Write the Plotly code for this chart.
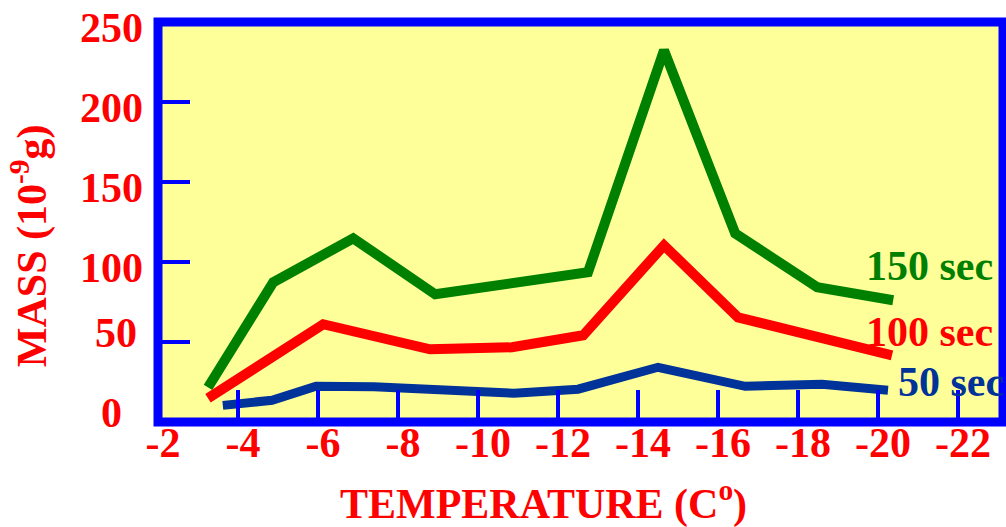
import plotly.graph_objects as go

# ---- data ----
temp_150 = [-3.25, -4.88, -6.88, -8.93, -12.75, -14.65, -16.43, -18.48, -20.38]
mass_150 = [21.7, 87.3, 114.8, 79.8, 93.6, 232.3, 117.9, 84.2, 76.1]

temp_100 = [-3.25, -6.13, -8.8, -10.85, -12.63, -14.65, -16.5, -20.35]
mass_100 = [14.8, 61.1, 45.4, 46.7, 54.2, 110.4, 65.4, 41.7]

temp_50 = [-3.62, -4.85, -5.95, -7.4, -10.9, -12.5, -14.5, -16.68, -18.6, -20.25]
mass_50 = [10.4, 13.6, 22.3, 22.0, 18.0, 20.5, 34.2, 22.3, 23.6, 19.8]

x_tick_vals = [-2, -4, -6, -8, -10, -12, -14, -16, -18, -20, -22]
x_tick_text = ["-2", "-4", "-6", "-8", "-10", "-12", "-14", "-16", "-18", "-20", "-22"]
y_tick_vals_upper = [100, 150, 200, 250]
y_tick_text_upper = ["100", "150", "200", "250"]
y_tick_vals_50 = [50]
y_tick_text_50 = ["50"]
y_tick_vals_0 = [0]
y_tick_text_0 = ["0"]

series_labels = ["150 sec", "100 sec", "50 sec"]
label_x = [-19.65, -19.65, -20.45]
label_y = [97.5, 56, 25]

GREEN = "#008000"
RED = "#FF0000"
NAVY = "#003399"
FRAME = "#0000FF"
FONT = "Liberation Serif, Times New Roman, serif"
FS = 42
Y_RANGE = [0, 250]
tick_font = dict(family=FONT, size=FS, color=RED, weight="bold")

fig = go.Figure()
fig.add_trace(go.Scatter(x=temp_150, y=mass_150, mode="lines", yaxis="y",
                         line=dict(color=GREEN, width=10), cliponaxis=False, showlegend=False))
fig.add_trace(go.Scatter(x=temp_100, y=mass_100, mode="lines", yaxis="y2",
                         line=dict(color=RED, width=10), cliponaxis=False, showlegend=False))
fig.add_trace(go.Scatter(x=temp_50, y=mass_50, mode="lines", yaxis="y3",
                         line=dict(color=NAVY, width=9), cliponaxis=False, showlegend=False))

for txt, lx, ly, col in zip(series_labels, label_x, label_y, [GREEN, RED, NAVY]):
    fig.add_annotation(x=lx, y=ly, xref="x", yref="y", text=txt, showarrow=False,
                       xanchor="left", yanchor="middle",
                       font=dict(family=FONT, size=FS, color=col, weight="bold"))

# axis titles
fig.add_annotation(x=0.4568, y=-0.198, xref="paper", yref="paper",
                   text="TEMPERATURE (C<sup>o</sup>)", showarrow=False,
                   xanchor="center", yanchor="middle",
                   font=dict(family=FONT, size=FS, color=RED, weight="bold"))
fig.add_annotation(x=-0.1515, y=0.442, xref="paper", yref="paper",
                   text="MASS (10<sup>-9</sup>g)", showarrow=False, textangle=-90,
                   xanchor="center", yanchor="middle",
                   font=dict(family=FONT, size=FS, color=RED, weight="bold"))

# frame
fig.add_shape(type="rect", xref="paper", yref="paper", x0=0, x1=1, y0=0, y1=1,
              line=dict(color=FRAME, width=9), layer="above")

fig.update_layout(
    xaxis=dict(range=[-2, -23.125], tickvals=x_tick_vals, ticktext=x_tick_text,
               ticks="inside", ticklen=32, tickwidth=4, tickcolor=FRAME,
               showgrid=False, zeroline=False, showline=False,
               ticklabelstandoff=-8, ticklabelshift=-5, ticklabeloverflow="allow",
               tickfont=tick_font),
    yaxis=dict(range=Y_RANGE, tickvals=y_tick_vals_upper, ticktext=y_tick_text_upper,
               ticks="inside", ticklen=32, tickwidth=4, tickcolor=FRAME,
               showgrid=False, zeroline=False, showline=False,
               ticklabelstandoff=14, ticklabelshift=5, ticklabeloverflow="allow",
               tickfont=tick_font),
    yaxis2=dict(range=Y_RANGE, overlaying="y", side="left",
                tickvals=y_tick_vals_50, ticktext=y_tick_text_50,
                ticks="inside", ticklen=32, tickwidth=4, tickcolor=FRAME,
                showgrid=False, zeroline=False, showline=False,
                ticklabelstandoff=20, ticklabelshift=-10, ticklabeloverflow="allow",
                tickfont=tick_font),
    yaxis3=dict(range=Y_RANGE, overlaying="y", side="left",
                tickvals=y_tick_vals_0, ticktext=y_tick_text_0,
                ticks="", showgrid=False, zeroline=False, showline=False,
                ticklabelstandoff=35, ticklabelshift=-10, ticklabeloverflow="allow",
                tickfont=tick_font),
    width=1006, height=527,
    margin=dict(l=158, r=3, t=22, b=105, autoexpand=False),
    plot_bgcolor="#FFFF99", paper_bgcolor="white",
)

# remove the default page margin so the figure fills the window exactly
fig.write_html("out.html",
               config={"displayModeBar": False, "staticPlot": True},
               post_script="document.body.style.margin='0';document.body.style.overflow='hidden';")
